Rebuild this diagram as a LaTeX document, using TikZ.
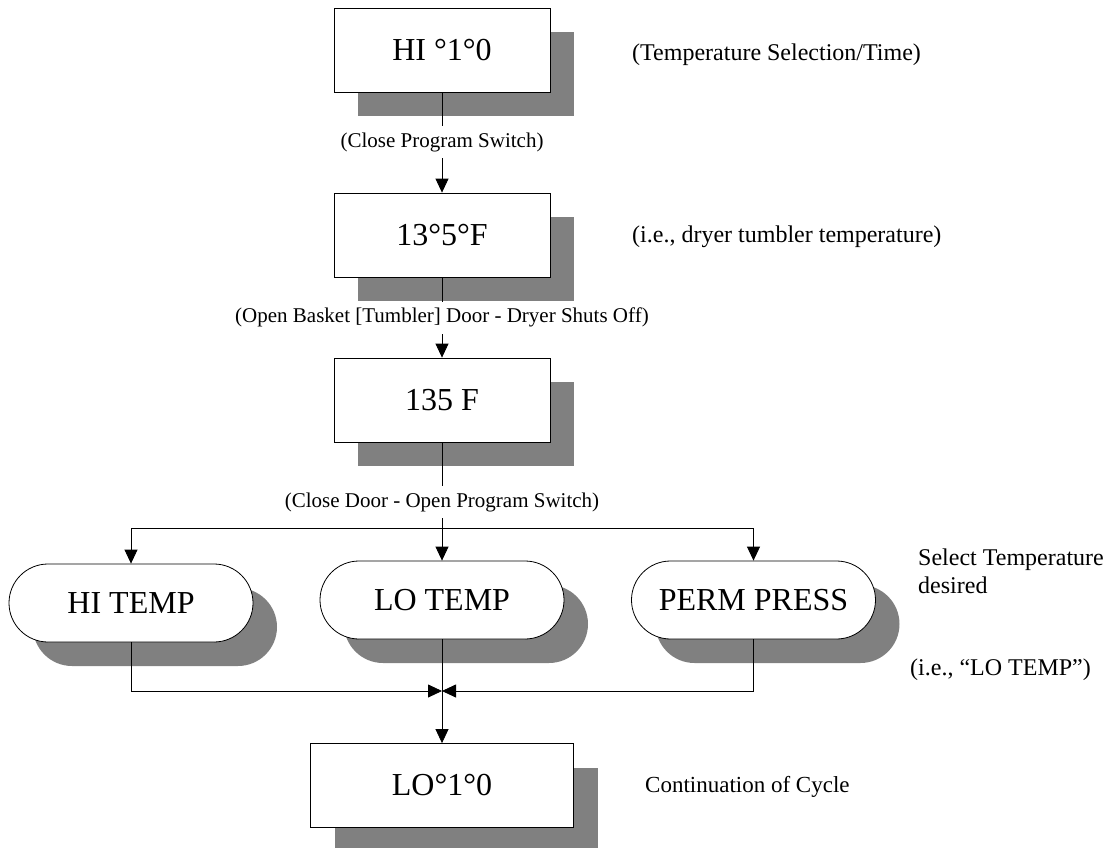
\documentclass[tikz,border=0pt]{standalone}
\usepackage{fontspec}
\setmainfont{Liberation Serif}
\usetikzlibrary{arrows.meta,shapes.misc,shadows}
\begin{document}
\begin{tikzpicture}[x=1pt,y=-1pt,
  shad/.style={drop shadow={shadow xshift=24pt,shadow yshift=-24pt,fill=black!50,opacity=1}},
  boxnode/.style={draw,line width=0.8pt,fill=white,shad,minimum width=216pt,minimum height=84pt,inner sep=0pt,font=\fontsize{32}{36}\selectfont},
  pill/.style={draw,rounded rectangle,line width=0.8pt,fill=white,shad,minimum width=244pt,minimum height=78pt,inner sep=0pt,font=\fontsize{32}{36}\selectfont},
  lbl/.style={fill=white,inner xsep=2pt,inner ysep=0pt,minimum height=32pt,font=\fontsize{21}{24}\selectfont},
  note/.style={anchor=west,inner sep=0pt,font=\fontsize{24}{28}\selectfont,align=left},
  con/.style={line width=0.8pt},
  arr/.style={con,-{Triangle[length=14pt,width=13pt]}}]
\useasboundingbox (0,0) rectangle (1111,848);

% boxes
\node[boxnode] (b1) at (442,50) {HI °1°0};
\node[boxnode] (b2) at (442,235) {13°5°F};
\node[boxnode] (b3) at (442,400) {135 F};
\node[pill] (hi) at (131,603) {HI TEMP};
\node[pill] (lo) at (442,600) {LO TEMP};
\node[pill] (pp) at (753.5,600) {PERM PRESS};
\node[boxnode,minimum width=263pt] (b4) at (442,785.5) {LO°1°0};

% notes
\node[note] (n1) at (632,55) {(Temperature Selection/Time)};
\node[note] (n2) at (632,237) {(i.e., dryer tumbler temperature)};
\node[note] (n3) at (918,571) {Select Temperature\\desired};
\node[note] (n4) at (910,670) {(i.e., “LO TEMP”)};
\node[note,font=\fontsize{23}{28}\selectfont] (n5) at (645,787) {Continuation of Cycle};

\coordinate (j) at (442,528);
\coordinate (m) at (442,691);

% connectors
\draw[arr] (b1) -- node[lbl] (l1) {(Close Program Switch)} (b2);
\draw[arr] (b2) -- node[lbl] (l2) {(Open Basket [Tumbler] Door - Dryer Shuts Off)} (b3);
\draw[con] (b3.south) -- node[lbl,pos=0.7] (l3) {(Close Door - Open Program Switch)} (j);
\draw[arr] (j) -- (lo.north);
\draw[arr] (j) -| (hi.north);
\draw[arr] (j) -| (pp.north);
\draw[arr] (hi.south) |- (m);
\draw[arr] (pp.south) |- (m);
\draw[arr] (lo.south) -- (b4.north);
\end{tikzpicture}
\end{document}
